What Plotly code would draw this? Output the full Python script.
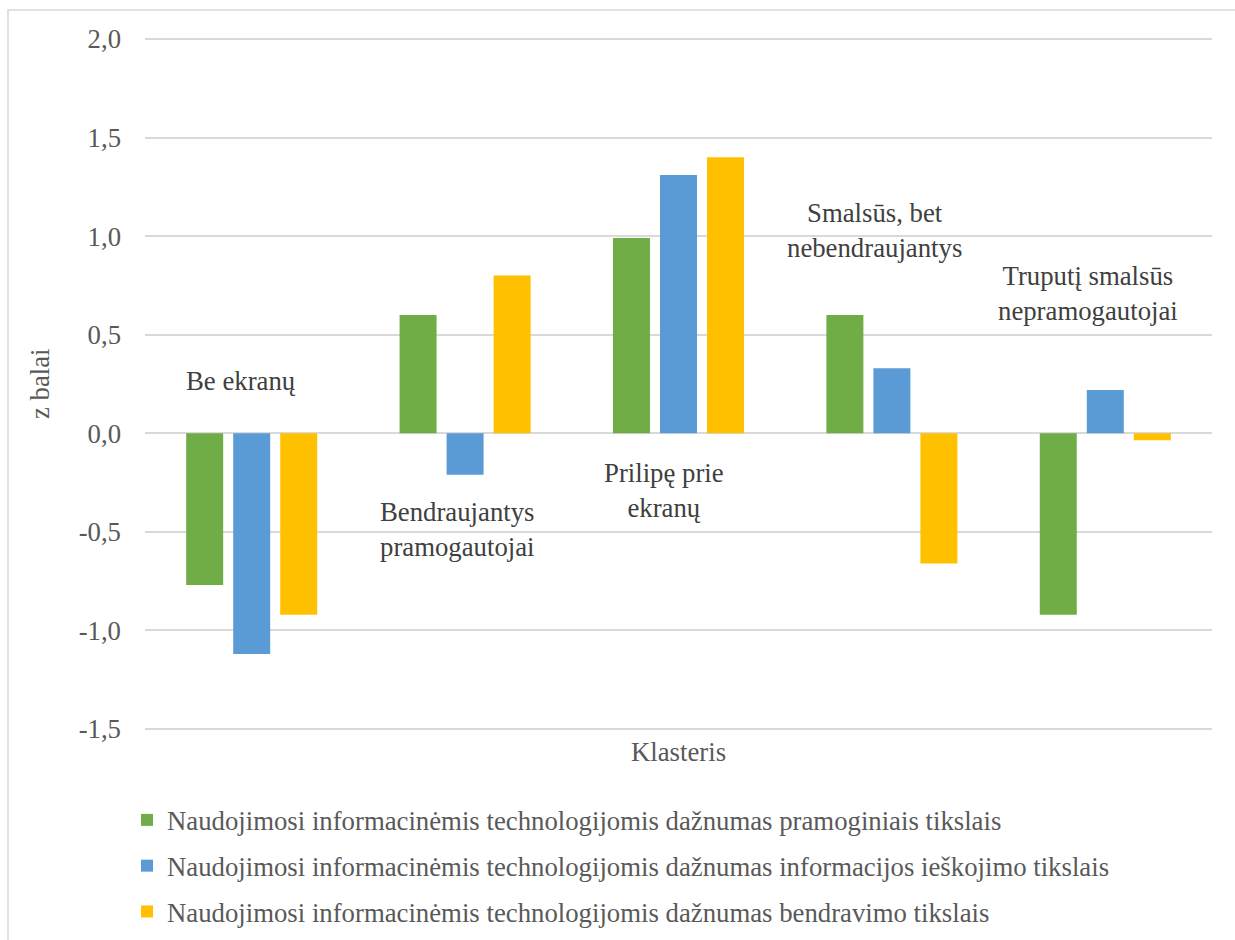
import plotly.graph_objects as go

categories = ["Be ekranų", "Bendraujantys pramogautojai", "Prilipę prie ekranų",
              "Smalsūs, bet nebendraujantys", "Truputį smalsūs nepramogautojai"]
category_labels = ["Be ekranų", "Bendraujantys<br>pramogautojai", "Prilipę prie<br>ekranų",
                   "Smalsūs, bet<br>nebendraujantys", "Truputį smalsūs<br>nepramogautojai"]

series_names = [
    "Naudojimosi informacinėmis technologijomis dažnumas pramoginiais tikslais",
    "Naudojimosi informacinėmis technologijomis dažnumas informacijos ieškojimo tikslais",
    "Naudojimosi informacinėmis technologijomis dažnumas bendravimo tikslais",
]
pramoginiais = [-0.77, 0.60, 0.99, 0.60, -0.92]
informacijos = [-1.12, -0.21, 1.31, 0.33, 0.22]
bendravimo = [-0.92, 0.80, 1.40, -0.66, -0.035]

y_ticks = [-1.5, -1.0, -0.5, 0.0, 0.5, 1.0, 1.5, 2.0]
y_tick_text = ["-1,5", "-1,0", "-0,5", "0,0", "0,5", "1,0", "1,5", "2,0"]

colors = ["#70AD47", "#5B9BD5", "#FFC000"]
FONT = "Liberation Serif"
FS = 26.75
TXT = "#595959"

W, H = 1235, 940
Y_MIN, Y_MAX = -1.51, 2.01
L, R = 145, 23
px_per_unit = 690 / 3.5
T = round(39 - (Y_MAX - 2.0) * px_per_unit)
B = round(H - 729 - (-1.5 - Y_MIN) * px_per_unit)
pw, ph = W - L - R, H - T - B

fig = go.Figure()
for i, (name, vals) in enumerate(zip(series_names, [pramoginiais, informacijos, bendravimo])):
    fig.add_trace(go.Bar(
        x=categories, y=vals, name=name,
        marker=dict(color=colors[i], line=dict(width=0)),
        legendgroup=f"g{i}",
        hoverinfo="y",
    ))

# in-chart cluster labels (placed like the original data labels)
label_pos = [(0.264, -11), (-0.49, -8), (-0.292, -15), (1.03, -17), (0.707, -17)]
for cat, lab, (yv, xs) in zip(categories, category_labels, label_pos):
    fig.add_annotation(x=cat, y=yv, xref="x", yref="y", text=lab, showarrow=False,
                       xshift=xs, align="center",
                       font=dict(family=FONT, size=FS, color="#404040"))

def px_to_paper_x(px):
    return (px - L) / pw

def px_to_paper_y(py):
    return (H - B - py) / ph

# outer chart border
fig.add_shape(type="rect", xref="paper", yref="paper",
              x0=px_to_paper_x(8), x1=px_to_paper_x(1240),
              y0=px_to_paper_y(950), y1=px_to_paper_y(10),
              line=dict(color="#D9D9D9", width=1.5), layer="below")

# y-axis title
fig.add_annotation(xref="paper", yref="paper", x=px_to_paper_x(40), y=0.5,
                   text="z balai", textangle=-90, showarrow=False,
                   xanchor="center", yanchor="middle",
                   font=dict(family=FONT, size=FS, color=TXT))
# x-axis title
fig.add_annotation(xref="paper", yref="paper", x=0.5, y=px_to_paper_y(752),
                   text="Klasteris", showarrow=False,
                   xanchor="center", yanchor="middle",
                   font=dict(family=FONT, size=FS, color=TXT))

fig.update_layout(
    width=W, height=H,
    margin=dict(l=L, r=R, t=T, b=B),
    paper_bgcolor="white", plot_bgcolor="white",
    font=dict(family=FONT, size=FS, color=TXT),
    barmode="group", bargap=0.339, bargroupgap=0.213,
    showlegend=True,
    legend=dict(
        orientation="v", x=px_to_paper_x(127), xanchor="left",
        yref="container", y=1 - 796 / H, yanchor="top",
        font=dict(family=FONT, size=FS, color=TXT),
        tracegroupgap=8, itemwidth=30, bgcolor="rgba(0,0,0,0)",
    ),
    xaxis=dict(showticklabels=False, showgrid=False, zeroline=False, showline=False,
               ticks=""),
    yaxis=dict(range=[Y_MIN, Y_MAX], tickvals=y_ticks, ticktext=y_tick_text,
               showgrid=True, gridcolor="#D9D9D9", gridwidth=1.5,
               zeroline=False, showline=False, ticks="",
               ticklabelstandoff=23,
               tickfont=dict(family=FONT, size=FS, color=TXT)),
)

fig.write_html("out.html")
